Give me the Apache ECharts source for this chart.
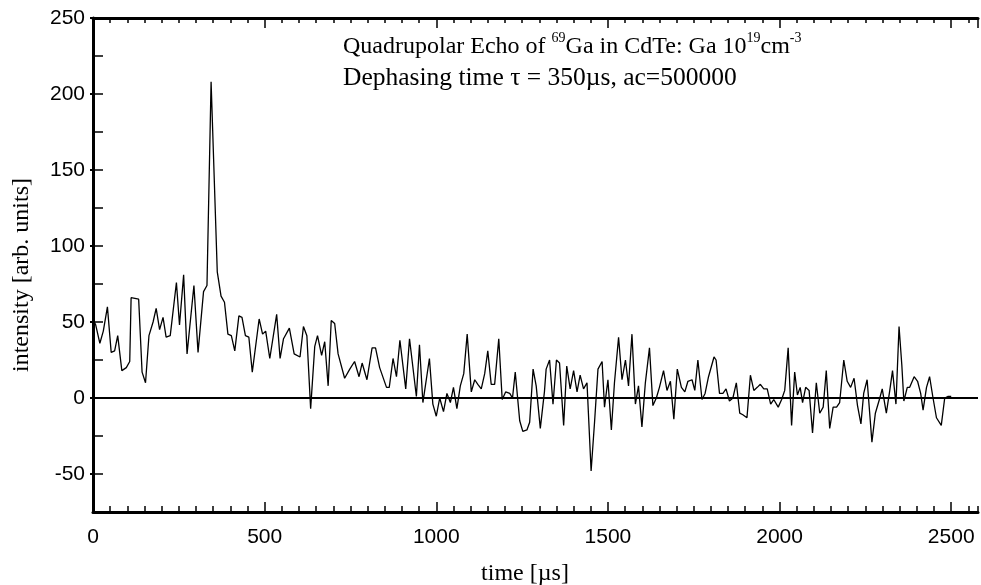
<!DOCTYPE html>
<html>
<head>
<meta charset="utf-8">
<script src="https://cdn.jsdelivr.net/npm/echarts@6/dist/echarts.min.js"></script>
<style>html,body{margin:0;padding:0;background:#fff}#c{width:981px;height:585px}</style>
</head>
<body>
<div id="c"></div>
<script>
const times = [0,8,20,30,42,53,63,72,84,97,107,111,133,143,153,163,175,184,194,204,213,225,243,252,264,274,294,306,322,332,344,362,373,383,393,403,413,425,434,444,454,464,484,494,503,515,535,545,555,572,586,603,613,623,634,646,654,666,675,685,694,704,714,733,748,762,775,784,798,813,823,835,855,863,874,884,894,911,922,942,951,961,980,990,1000,1010,1021,1031,1041,1050,1060,1070,1080,1090,1102,1112,1121,1131,1141,1150,1160,1170,1182,1192,1202,1214,1222,1230,1243,1252,1264,1272,1282,1291,1303,1315,1320,1330,1340,1350,1359,1371,1380,1390,1400,1410,1419,1429,1439,1451,1461,1471,1483,1490,1500,1510,1519,1531,1541,1551,1560,1570,1580,1589,1599,1609,1621,1631,1641,1650,1662,1672,1682,1692,1702,1714,1724,1733,1745,1753,1762,1774,1783,1793,1809,1815,1825,1835,1844,1854,1864,1874,1884,1893,1905,1915,1925,1935,1944,1954,1964,1974,1983,1996,2006,2015,2025,2035,2044,2052,2060,2067,2076,2086,2096,2107,2117,2127,2136,2146,2156,2166,2175,2187,2197,2207,2217,2227,2237,2245,2255,2269,2279,2292,2299,2311,2321,2329,2339,2348,2356,2362,2372,2379,2392,2402,2411,2418,2428,2437,2447,2457,2471,2481,2490,2500];
const intensity = [52,48,36,44,60,30,31,41,18,20,24,66,65,17,10,41,50,59,45,53,40,41,76,48,81,29,74,30,70,74,208,83,67,63,42,41,31,54,53,41,40,17,52,42,44,26,55,26,39,46,29,27,47,41,-7,34,41,28,37,8,51,49,29,13,19,24,14,23,12,33,33,20,7,7,26,14,38,6,39,1,35,-3,26,-4,-12,0,-9,3,-3,7,-7,8,16,42,4,12,9,6,16,31,9,9,39,-1,4,3,0,17,-15,-22,-21,-16,19,8,-20,4,19,25,-4,25,23,-18,21,6,18,4,15,6,10,-48,-16,19,24,-6,12,-21,10,40,12,25,8,42,-4,8,-19,10,33,-5,0,7,18,5,11,-14,19,7,4,11,12,5,25,-1,3,14,27,25,3,3,6,-2,0,10,-10,-11,-13,15,5,7,9,6,6,-4,-1,-6,-1,5,33,-18,17,2,7,-3,7,5,-23,10,-10,-6,18,-20,-6,-6,-3,25,11,7,13,-5,-17,3,12,-29,-10,0,6,-10,5,18,-4,47,22,-2,7,7,14,11,3,-8,7,14,0,-13,-18,0,1,1];
const xMajorTicks = [0,500,1000,1500,2000,2500];
const yTickLabels = [-50,0,50,100,150,200,250];

const chart = echarts.init(document.getElementById('c'), null, {renderer:'canvas'});
const XMAX = 2578;
const serif = 'Liberation Serif';
const sans = 'Liberation Sans';
const lineCol = '#000';
function xa(pos, interval, len, showLine, showLabel) {
  return {
    type:'value', position:pos, min:0, max:XMAX, interval:interval,
    axisLine:{show:showLine, onZero:false, lineStyle:{color:lineCol, width:3}},
    axisTick:{show:true, inside:true, length:len, lineStyle:{color:lineCol, width:1.5}},
    axisLabel:{show:showLabel, showMaxLabel:false, color:'#000', fontFamily:sans, fontSize:21, margin:15,
      formatter:v => xMajorTicks.includes(v) ? String(v) : ''},
    splitLine:{show:false}
  };
}
const option = {
  animation:false,
  backgroundColor:'#fff',
  grid:{left:93, right:3, top:18, bottom:73, containLabel:false},
  xAxis:[
    xa('bottom',500,10,true,true),
    xa('bottom',50,6,false,false),
    xa('top',500,10,true,false),
    xa('top',50,5,false,false)
  ],
  yAxis:[
    {type:'value', position:'left', min:-75, max:250, interval:25,
     axisLine:{show:true, onZero:false, lineStyle:{color:lineCol, width:3}},
     axisTick:{show:true, inside:true, length:10, lineStyle:{color:lineCol, width:1.5}},
     axisLabel:{color:'#000', fontFamily:sans, fontSize:21, margin:8,
       formatter:v => yTickLabels.includes(v) ? String(v) : ''},
     splitLine:{show:false}},
    {type:'value', position:'right', min:-75, max:250, interval:25,
     axisLine:{show:false},
     axisTick:{show:true, inside:true, length:3, customValues:yTickLabels, lineStyle:{color:lineCol, width:2}},
     axisLabel:{show:false}, splitLine:{show:false}}
  ],
  graphic:[
    {type:'text', left:343, top:31, silent:true,
     style:{text:'{a|Quadrupolar Echo of }{s|69}{a|Ga in CdTe: Ga 10}{s|19}{a|cm}{s|-3}',
       rich:{a:{fontFamily:serif, fontSize:24, color:'#000', lineHeight:28, verticalAlign:'bottom'},
             s:{fontFamily:serif, fontSize:14, color:'#000', lineHeight:28, verticalAlign:'top'}}}},
    {type:'text', left:343, top:65, silent:true,
     style:{text:'Dephasing time τ = 350µs, ac=500000', fontFamily:serif, fontSize:25.5, fill:'#000'}},
    {type:'text', x:525, y:574, silent:true,
     style:{text:'time [µs]', fontFamily:serif, fontSize:24, fill:'#000', align:'center', verticalAlign:'middle'}},
    {type:'text', x:22, y:275, rotation:Math.PI/2, silent:true,
     style:{text:'intensity [arb. units]', fontFamily:serif, fontSize:24, fill:'#000', align:'center', verticalAlign:'middle'}}
  ],
  series:[{
    type:'line', xAxisIndex:0, yAxisIndex:0,
    data: times.map((t,i)=>[t,intensity[i]]),
    showSymbol:false, symbol:'none',
    lineStyle:{color:'#000', width:1.3},
    markLine:{silent:true, symbol:'none', label:{show:false},
      lineStyle:{color:'#000', width:2, type:'solid'},
      data:[{yAxis:0}]}
  }]
};
chart.setOption(option);
</script>
</body>
</html>
